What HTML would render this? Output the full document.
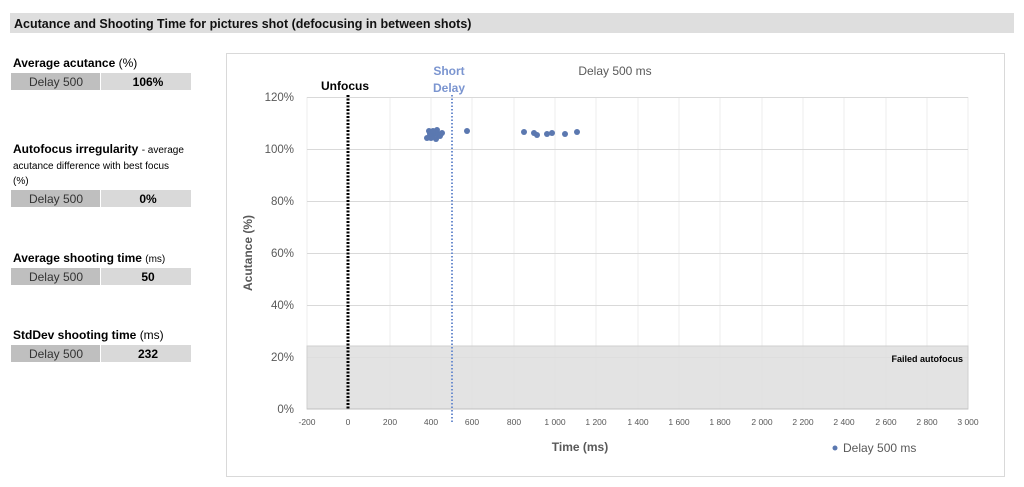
<!DOCTYPE html>
<html><head><meta charset="utf-8"><style>
body{margin:0;width:1024px;height:487px;background:#fff;font-family:"Liberation Sans",sans-serif;overflow:hidden}
svg{position:absolute;left:0;top:0}
</style></head><body>
<svg width="1024" height="487" xmlns="http://www.w3.org/2000/svg" font-family="Liberation Sans, sans-serif">
<rect x="10" y="13" width="1004" height="20" fill="#dedede"/>
<text x="14" y="28" font-size="12.5" font-weight="bold" fill="#111">Acutance and Shooting Time for pictures shot (defocusing in between shots)</text>

<g font-size="12">
<text x="13" y="67" font-weight="bold">Average acutance <tspan font-weight="normal">(%)</tspan></text>
<rect x="11" y="73" width="89" height="17" fill="#bfbfbf"/><rect x="101" y="73" width="90" height="17" fill="#d9d9d9"/>
<text x="56" y="86" text-anchor="middle" fill="#333">Delay 500</text><text x="148" y="86" text-anchor="middle" font-weight="bold">106%</text>

<text x="13" y="153" font-weight="bold">Autofocus irregularity <tspan font-weight="normal" font-size="10">- average</tspan></text>
<text x="13" y="169" font-size="10">acutance difference with best focus</text>
<text x="13" y="184" font-size="10">(%)</text>
<rect x="11" y="190" width="89" height="17" fill="#bfbfbf"/><rect x="101" y="190" width="90" height="17" fill="#d9d9d9"/>
<text x="56" y="203" text-anchor="middle" fill="#333">Delay 500</text><text x="148" y="203" text-anchor="middle" font-weight="bold">0%</text>

<text x="13" y="262" font-weight="bold">Average shooting time <tspan font-weight="normal" font-size="10">(ms)</tspan></text>
<rect x="11" y="268" width="89" height="17" fill="#bfbfbf"/><rect x="101" y="268" width="90" height="17" fill="#d9d9d9"/>
<text x="56" y="281" text-anchor="middle" fill="#333">Delay 500</text><text x="148" y="281" text-anchor="middle" font-weight="bold">50</text>

<text x="13" y="339" font-weight="bold">StdDev shooting time <tspan font-weight="normal">(ms)</tspan></text>
<rect x="11" y="345" width="89" height="17" fill="#bfbfbf"/><rect x="101" y="345" width="90" height="17" fill="#d9d9d9"/>
<text x="56" y="358" text-anchor="middle" fill="#333">Delay 500</text><text x="148" y="358" text-anchor="middle" font-weight="bold">232</text>
</g>

<rect x="226.5" y="53.5" width="778" height="423" fill="#fff" stroke="#d9d9d9"/>
<!-- grid -->
<g stroke="#ececec" stroke-width="1">
<line x1="307" y1="97" x2="307" y2="409"/>
<line x1="390" y1="97" x2="390" y2="409"/><line x1="431" y1="97" x2="431" y2="409"/><line x1="472" y1="97" x2="472" y2="409"/><line x1="514" y1="97" x2="514" y2="409"/><line x1="555" y1="97" x2="555" y2="409"/><line x1="596" y1="97" x2="596" y2="409"/><line x1="638" y1="97" x2="638" y2="409"/><line x1="679" y1="97" x2="679" y2="409"/><line x1="720" y1="97" x2="720" y2="409"/><line x1="762" y1="97" x2="762" y2="409"/><line x1="803" y1="97" x2="803" y2="409"/><line x1="844" y1="97" x2="844" y2="409"/><line x1="886" y1="97" x2="886" y2="409"/><line x1="927" y1="97" x2="927" y2="409"/><line x1="968" y1="97" x2="968" y2="409"/>
</g>
<g stroke="#d9d9d9">
<line x1="307" y1="97.5" x2="968" y2="97.5"/><line x1="307" y1="149.5" x2="968" y2="149.5"/><line x1="307" y1="201.5" x2="968" y2="201.5"/><line x1="307" y1="253.5" x2="968" y2="253.5"/><line x1="307" y1="305.5" x2="968" y2="305.5"/><line x1="307" y1="357.5" x2="968" y2="357.5"/>
</g>
<rect x="307" y="346" width="661" height="63" fill="#dedede" fill-opacity="0.85" stroke="#cfcfcf"/>
<line x1="307" y1="409" x2="968" y2="409" stroke="#bfbfbf"/>
<text x="963" y="362" font-size="9" font-weight="bold" text-anchor="end">Failed autofocus</text>

<g font-size="11.5" fill="#595959" text-anchor="end">
<text x="294" y="101">120%</text><text x="294" y="153">100%</text><text x="294" y="205">80%</text><text x="294" y="257">60%</text><text x="294" y="309">40%</text><text x="294" y="361">20%</text><text x="294" y="413">0%</text>
</g>
<g font-size="8.5" fill="#595959" text-anchor="middle">
<text x="307" y="425">-200</text><text x="348" y="425">0</text><text x="390" y="425">200</text><text x="431" y="425">400</text><text x="472" y="425">600</text><text x="514" y="425">800</text><text x="555" y="425">1 000</text><text x="596" y="425">1 200</text><text x="638" y="425">1 400</text><text x="679" y="425">1 600</text><text x="720" y="425">1 800</text><text x="762" y="425">2 000</text><text x="803" y="425">2 200</text><text x="844" y="425">2 400</text><text x="886" y="425">2 600</text><text x="927" y="425">2 800</text><text x="968" y="425">3 000</text>
</g>
<text x="580" y="451" font-size="12" font-weight="bold" fill="#595959" text-anchor="middle">Time (ms)</text>
<text x="252" y="253" font-size="12" font-weight="bold" fill="#595959" text-anchor="middle" transform="rotate(-90 252 253)">Acutance (%)</text>
<text x="615" y="75" font-size="12" fill="#595959" text-anchor="middle">Delay 500 ms</text>

<line x1="348" y1="95" x2="348" y2="409" stroke="#000" stroke-width="3" stroke-dasharray="2,1.5"/>
<text x="345" y="90" font-size="12" font-weight="bold" text-anchor="middle">Unfocus</text>
<line x1="452" y1="95" x2="452" y2="422" stroke="#6f8fcf" stroke-width="2" stroke-dasharray="1.5,2"/>
<text x="449" y="75" font-size="12" font-weight="bold" fill="#7b95d0" text-anchor="middle">Short</text>
<text x="449" y="92" font-size="12" font-weight="bold" fill="#7b95d0" text-anchor="middle">Delay</text>

<g fill="#5b78b0">
<circle cx="429" cy="131" r="3"/><circle cx="433" cy="135" r="3"/><circle cx="436" cy="133" r="3"/><circle cx="431" cy="138" r="3"/><circle cx="436" cy="139" r="3"/><circle cx="438" cy="134" r="3"/><circle cx="440" cy="136" r="3"/><circle cx="442" cy="133" r="3"/><circle cx="437" cy="130" r="3"/><circle cx="430" cy="134" r="3"/><circle cx="427" cy="138" r="3"/><circle cx="433" cy="131" r="3"/>
<circle cx="467" cy="131" r="3"/><circle cx="524" cy="132" r="3"/><circle cx="534" cy="133" r="3"/><circle cx="537" cy="135" r="3"/><circle cx="547" cy="134" r="3"/><circle cx="552" cy="133" r="3"/><circle cx="565" cy="134" r="3"/><circle cx="577" cy="132" r="3"/>
<circle cx="835" cy="448" r="2.5"/>
</g>
<text x="843" y="452" font-size="12" fill="#595959">Delay 500 ms</text>
</svg>
</body></html>
